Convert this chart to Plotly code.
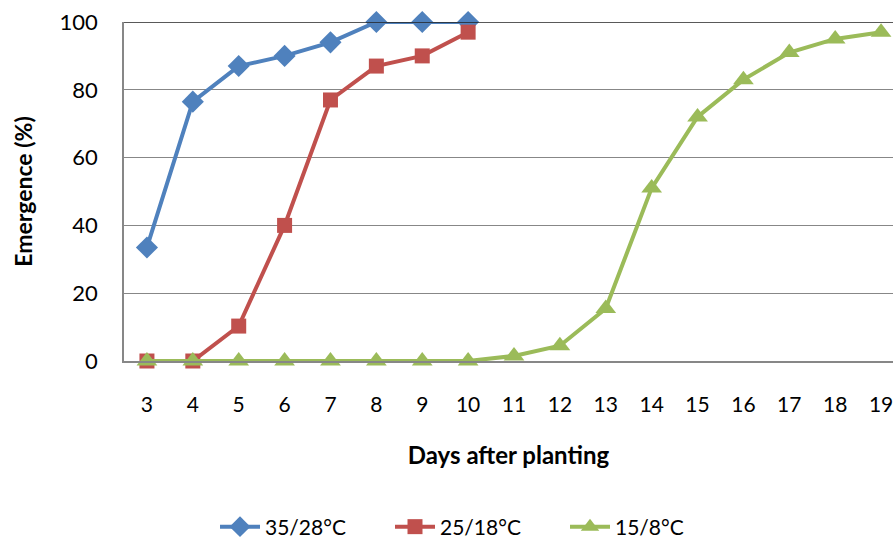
import plotly.graph_objects as go

days = [3, 4, 5, 6, 7, 8, 9, 10, 11, 12, 13, 14, 15, 16, 17, 18, 19]
t35_days = [3, 4, 5, 6, 7, 8, 9, 10]
t35_vals = [33.5, 76.5, 87, 90, 94, 100, 100, 100]
t25_days = [3, 4, 5, 6, 7, 8, 9, 10]
t25_vals = [0, 0, 10.3, 40, 77, 87, 90, 97]
t15_days = days
t15_vals = [0, 0, 0, 0, 0, 0, 0, 0, 1.5, 4.5, 15.5, 51, 72, 83, 91, 95, 97]
series_names = ["35/28°C", "25/18°C", "15/8°C"]
y_ticks = [0, 20, 40, 60, 80, 100]

FONT = "Lato, Carlito, Calibri, sans-serif"

fig = go.Figure()
fig.add_trace(go.Scatter(x=t35_days, y=t35_vals, name=series_names[0], mode="lines+markers",
                         line=dict(color="#4F81BD", width=4),
                         marker=dict(symbol="diamond", size=17, color="#4F81BD"), cliponaxis=False))
fig.add_trace(go.Scatter(x=t25_days, y=t25_vals, name=series_names[1], mode="lines+markers",
                         line=dict(color="#C0504D", width=4),
                         marker=dict(symbol="square", size=15, color="#C0504D"), cliponaxis=False))
fig.add_trace(go.Scatter(x=t15_days, y=t15_vals, name=series_names[2], mode="lines+markers",
                         line=dict(color="#9BBB59", width=4),
                         marker=dict(symbol="triangle-up", size=18, color="#9BBB59"), cliponaxis=False))

fig.add_shape(type="line", xref="paper", yref="y", x0=0, x1=1, y0=100, y1=100,
              line=dict(color="#222222", width=1.5))

fig.update_layout(
    width=893, height=541,
    margin=dict(l=124, r=0, t=22, b=180),
    paper_bgcolor="white", plot_bgcolor="white",
    font=dict(family=FONT, size=21, color="black"),
    showlegend=True,
    legend=dict(orientation="h", x=0.5 + 31 / 893, xanchor="center", xref="container",
                y=1 - 527 / 541, yanchor="middle", yref="container",
                font=dict(size=21), entrywidth=120, entrywidthmode="pixels",
                itemwidth=40, tracegroupgap=0),
    xaxis=dict(range=[2.5, 19.26], tickvals=days, ticktext=[str(d) for d in days],
               showgrid=False, zeroline=False, showline=True, linecolor="#878787", linewidth=1.5,
               ticks="", ticklabelstandoff=24, tickfont=dict(size=21), ticklabeloverflow="allow",
               title=dict(text="<b>Days after planting</b>", font=dict(size=24), standoff=32)),
    yaxis=dict(range=[0, 100], tickvals=y_ticks, showgrid=True, gridcolor="#878787", gridwidth=1.2,
               zeroline=False, showline=True, linecolor="#878787", linewidth=1.5,
               ticks="", ticklabelstandoff=20, tickfont=dict(size=22),
               title=dict(text="<b>Emergence (%)</b>", font=dict(size=23), standoff=21)),
)

fig.write_html("out.html", config={"displayModeBar": False},
               post_script="document.body.style.margin='0';document.body.style.padding='0';")
